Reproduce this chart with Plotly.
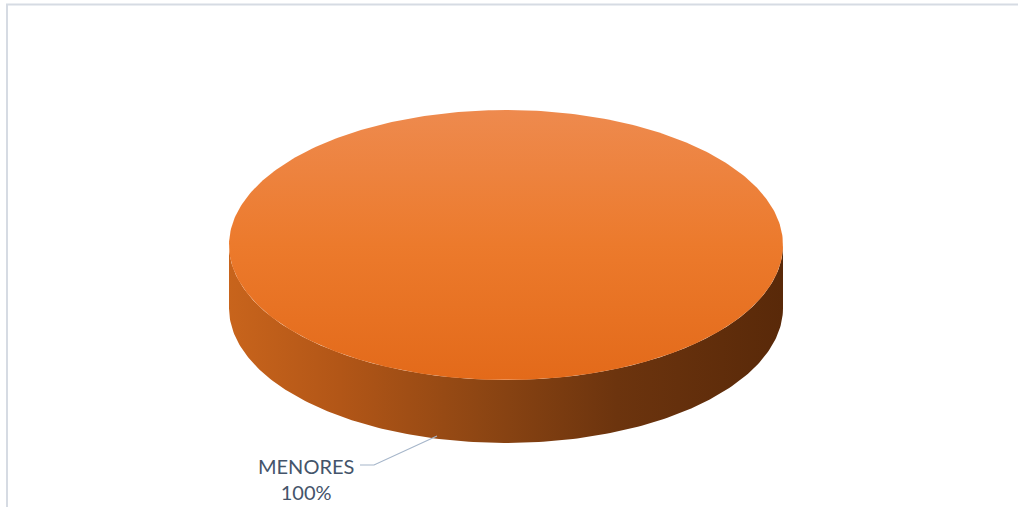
import numpy as np
import plotly.graph_objects as go

# ---- data ----
categories = ["MENORES"]
values = [100]
slice_colors = ["#ED7D31"]

# ---- geometry / style constants (pixel-like coordinates) ----
W, H = 1018, 507
CX, CY = 506, 245      # centre of top face
RX, RY = 277, 135      # radii of top face ellipse
DEPTH = 63             # thickness of the 3D pie

fig = go.Figure()

total = float(sum(values))
fracs = [v / total for v in values]

# Excel-style: first slice starts at 12 o'clock, clockwise
start = 0.0
for cat, f, col in zip(categories, fracs, slice_colors):
    a0, a1 = start, start + f
    t = np.linspace(a0, a1, max(int(400 * f), 3)) * 2 * np.pi
    ex = CX + RX * np.sin(t)
    ey = CY - RY * np.cos(t)

    # visible side wall: part of the arc on the front half (angles between 90 and 270 deg)
    ang = np.linspace(a0, a1, max(int(400 * f), 3)) * 360.0
    front = (ang >= 90) & (ang <= 270)
    tf = np.deg2rad(ang[front])
    if tf.size:
        sx = CX + RX * np.sin(tf)
        sy = CY - RY * np.cos(tf)
        side_x = np.concatenate([sx, sx[::-1], sx[:1]])
        side_y = np.concatenate([sy, (sy + DEPTH)[::-1], sy[:1]])
        fig.add_trace(go.Scatter(
            x=side_x, y=side_y, mode="lines", line=dict(width=0),
            fill="toself",
            fillgradient=dict(type="horizontal", colorscale=[
                [0.0, "#C8641C"], [0.2, "#B25617"], [0.45, "#8E4613"],
                [0.7, "#6C340E"], [1.0, "#592909"]]),
            hoverinfo="skip", showlegend=False))

    # top face wedge
    if f < 1:
        wx = np.concatenate([[CX], ex, [CX]])
        wy = np.concatenate([[CY], ey, [CY]])
    else:
        wx, wy = ex, ey
    fig.add_trace(go.Scatter(
        x=wx, y=wy, mode="lines", line=dict(width=0),
        fill="toself",
        fillgradient=dict(type="vertical", colorscale=[
            [0.0, "#E36A1A"], [0.5, "#EC7A2C"], [1.0, "#EE8A4E"]]),
        name=cat, hoverinfo="name", showlegend=False))
    start = a1

# data label with leader line
label_text = [f"{c}<br>{v / total:.0%}" for c, v in zip(categories, values)]
fig.add_annotation(x=306, y=479, text=label_text[0], showarrow=False,
                   font=dict(family="Lato, Calibri, sans-serif", size=20, color="#44546A"),
                   align="center", xanchor="center", yanchor="middle")
fig.add_shape(type="path", path="M 360 465 L 374 465 L 437 436",
              line=dict(color="#A6B6CA", width=1.2))

# chart border (top and left visible)
fig.add_shape(type="rect", x0=7, x1=1030, y0=4.5, y1=530,
              line=dict(color="#D6DBE3", width=2))

fig.update_xaxes(range=[0, W], visible=False, fixedrange=True)
fig.update_yaxes(range=[H, 0], visible=False, fixedrange=True)
fig.update_layout(width=W, height=H, margin=dict(l=0, r=0, t=0, b=0),
                  paper_bgcolor="white", plot_bgcolor="white")

fig.write_html("out.html", config={"displayModeBar": False},
               post_script="document.body.style.margin='0';document.body.style.overflow='hidden';")
